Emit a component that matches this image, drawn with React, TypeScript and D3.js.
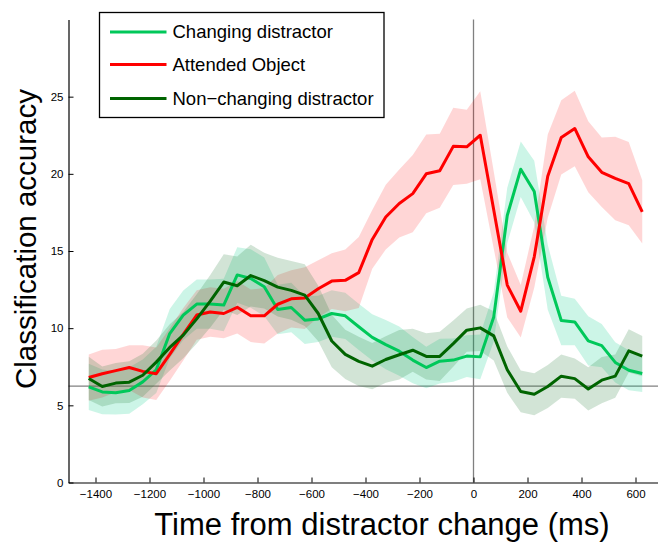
import React, { useEffect, useRef } from 'react';
import * as d3 from 'd3';

// time bins (ms, relative to distractor change)
const timeMs = [
  -1425, -1375, -1325, -1275, -1225, -1175, -1125, -1075, -1025, -975,
  -925, -875, -825, -775, -725, -675, -625, -575, -525, -475,
  -425, -375, -325, -275, -225, -175, -125, -75, -25, 25,
  75, 125, 175, 225, 275, 325, 375, 425, 475, 525,
  575, 625,
];

const changing = [
  6.2, 5.87, 5.81, 5.96, 6.52, 7.3, 9.65, 10.84, 11.56, 11.56,
  11.5, 13.45, 13.22, 12.68, 11.21, 11.34, 10.52, 10.6, 10.95, 10.8,
  10.09, 9.4, 8.93, 8.51, 7.93, 7.45, 7.86, 7.93, 8.19, 8.14,
  10.73, 17.3, 20.3, 18.85, 13.3, 10.5, 10.4, 9.18, 8.87, 7.78,
  7.27, 7.06,
];
const changingSem = [
  1.5, 1.45, 1.4, 1.5, 1.45, 1.5, 1.6, 1.6, 1.6, 1.6,
  1.7, 1.8, 1.9, 1.9, 1.6, 1.6, 1.55, 1.5, 1.5, 1.5,
  1.5, 1.5, 1.6, 1.6, 1.5, 1.35, 1.45, 1.4, 1.35, 1.45,
  1.6, 1.8, 1.8, 2.0, 2.1, 1.6, 1.5, 1.6, 1.4, 1.3,
  1.3, 1.2,
];

const attended = [
  6.8, 7.05, 7.25, 7.45, 7.2, 7.05, 8.3, 9.6, 10.85, 11.05,
  10.95, 11.35, 10.8, 10.8, 11.55, 11.9, 11.95, 12.55, 13.05, 13.1,
  13.6, 15.75, 17.2, 18.08, 18.72, 20.0, 20.2, 21.78, 21.75, 22.5,
  17.65, 12.79, 11.1, 14.62, 19.85, 22.36, 22.94, 21.1, 20.1, 19.7,
  19.37, 17.54,
];
const attendedSem = [
  1.5, 1.55, 1.4, 1.45, 1.7, 1.7, 1.7, 1.7, 1.6, 1.6,
  1.6, 1.7, 1.7, 1.8, 1.9, 1.85, 2.0, 1.85, 1.8, 2.0,
  2.3, 1.9, 2.1, 2.2, 2.5, 2.55, 2.4, 2.5, 2.4, 2.85,
  2.5, 2.1, 1.7, 2.0, 2.7, 2.4, 2.45, 2.3, 2.25, 2.7,
  2.7, 2.05,
];

const nonChanging = [
  6.74, 6.22, 6.44, 6.5, 6.95, 7.8, 8.75, 9.55, 10.6, 11.75,
  12.99, 12.75, 13.41, 13.08, 12.66, 12.45, 12.14, 10.95, 9.17, 8.3,
  7.85, 7.54, 7.97, 8.28, 8.57, 8.17, 8.17, 9.0, 9.87, 10.02,
  9.5, 7.31, 5.9, 5.72, 6.22, 6.89, 6.73, 6.06, 6.63, 6.89,
  8.53, 8.19,
];
const nonChangingSem = [
  1.4, 1.3, 1.3, 1.35, 1.4, 1.4, 1.5, 1.5, 1.6, 1.7,
  1.8, 1.9, 2.0, 1.8, 1.9, 1.9, 2.0, 1.8, 1.7, 1.6,
  1.6, 1.5, 1.5, 1.6, 1.4, 1.5, 1.6, 1.5, 1.4, 1.5,
  1.6, 1.5, 1.35, 1.36, 1.4, 1.4, 1.3, 1.4, 1.5, 1.4,
  1.4, 1.3,
];

const xTicks = [-1400, -1200, -1000, -800, -600, -400, -200, 0, 200, 400, 600];
const yTicks = [0, 5, 10, 15, 20, 25];
const chanceLevel = 6.25;

const seriesInfo = [
  { label: 'Changing distractor', values: changing, sem: changingSem, color: '#00c85a', fill: '#00cc88', fillOpacity: 0.2 },
  { label: 'Attended Object', values: attended, sem: attendedSem, color: '#ff0000', fill: '#ff0000', fillOpacity: 0.16 },
  { label: 'Non\u2212changing distractor', values: nonChanging, sem: nonChangingSem, color: '#006400', fill: '#1e7832', fillOpacity: 0.2 },
];

const FONT = "'Liberation Sans', Arial, Helvetica, sans-serif";

const App = () => {
  const svgRef = useRef<SVGSVGElement | null>(null);

  useEffect(() => {
    if (!svgRef.current) return;
    const svg = d3.select(svgRef.current);
    svg.selectAll('*').remove();

    const x = d3.scaleLinear().domain([-1500, 800]).range([68.5, 689.5]);
    const y = d3.scaleLinear().domain([0, 30]).range([482.5, 19.5]);

    // reference lines (chance level and time zero)
    svg.append('line')
      .attr('x1', x(-1500)).attr('x2', 658)
      .attr('y1', y(chanceLevel)).attr('y2', y(chanceLevel))
      .attr('stroke', '#808080').attr('stroke-width', 1.3);
    svg.append('line')
      .attr('x1', x(0)).attr('x2', x(0))
      .attr('y1', y(0)).attr('y2', y(30))
      .attr('stroke', '#808080').attr('stroke-width', 1.3);

    // shaded error bands
    seriesInfo.forEach(s => {
      const area = d3.area<number>()
        .x((_, i) => x(timeMs[i]))
        .y0((d, i) => y(d - s.sem[i]))
        .y1((d, i) => y(d + s.sem[i]));
      svg.append('path')
        .datum(s.values)
        .attr('fill', s.fill)
        .attr('fill-opacity', s.fillOpacity)
        .attr('stroke', 'none')
        .attr('d', area);
    });

    // mean lines
    seriesInfo.forEach(s => {
      const line = d3.line<number>()
        .x((_, i) => x(timeMs[i]))
        .y(d => y(d));
      svg.append('path')
        .datum(s.values)
        .attr('fill', 'none')
        .attr('stroke', s.color)
        .attr('stroke-width', 3)
        .attr('stroke-linejoin', 'round')
        .attr('d', line);
    });

    // axes
    const fmt = (d: any) => (d < 0 ? '\u2212' + Math.abs(d) : String(d));
    const xAxis = svg.append('g')
      .attr('transform', `translate(0,${y(0)})`)
      .call(d3.axisBottom(x).tickValues(xTicks).tickSizeInner(-5).tickSizeOuter(0).tickPadding(7).tickFormat(fmt));
    const yAxis = svg.append('g')
      .attr('transform', `translate(${x(-1500)},0)`)
      .call(d3.axisLeft(y).tickValues(yTicks).tickSizeInner(-5).tickSizeOuter(0).tickPadding(5).tickFormat(fmt));
    [xAxis, yAxis].forEach(a => {
      a.selectAll('path').attr('stroke', '#000').attr('stroke-width', 1.2);
      a.selectAll('line').attr('stroke', '#000').attr('stroke-width', 1);
      a.selectAll('text').attr('font-family', FONT).attr('font-size', 11.5).attr('fill', '#000');
    });

    // axis titles
    svg.append('text')
      .attr('x', 382).attr('y', 535)
      .attr('text-anchor', 'middle')
      .attr('font-family', FONT).attr('font-size', 31)
      .text('Time from distractor change (ms)');
    svg.append('text')
      .attr('transform', 'translate(36,239) rotate(-90)')
      .attr('text-anchor', 'middle')
      .attr('font-family', FONT).attr('font-size', 29.5)
      .text('Classification accuracy');

    // legend
    const legend = svg.append('g');
    legend.append('rect')
      .attr('x', 99.5).attr('y', 12.5)
      .attr('width', 284.5).attr('height', 105)
      .attr('fill', '#fff').attr('stroke', '#000').attr('stroke-width', 1.3);
    const rowY = [32, 64.5, 98.5];
    seriesInfo.forEach((s, i) => {
      legend.append('line')
        .attr('x1', 110).attr('x2', 166.5)
        .attr('y1', rowY[i]).attr('y2', rowY[i])
        .attr('stroke', s.color).attr('stroke-width', 3);
      legend.append('text')
        .attr('x', 172.5).attr('y', rowY[i] + 6.4)
        .attr('font-family', FONT).attr('font-size', 18.5)
        .text(s.label);
    });
  }, []);

  return (
    <svg
      ref={svgRef}
      width={658}
      height={543}
      style={{ position: 'absolute', left: 0, top: 0, background: '#fff' }}
    />
  );
};

export default App;
